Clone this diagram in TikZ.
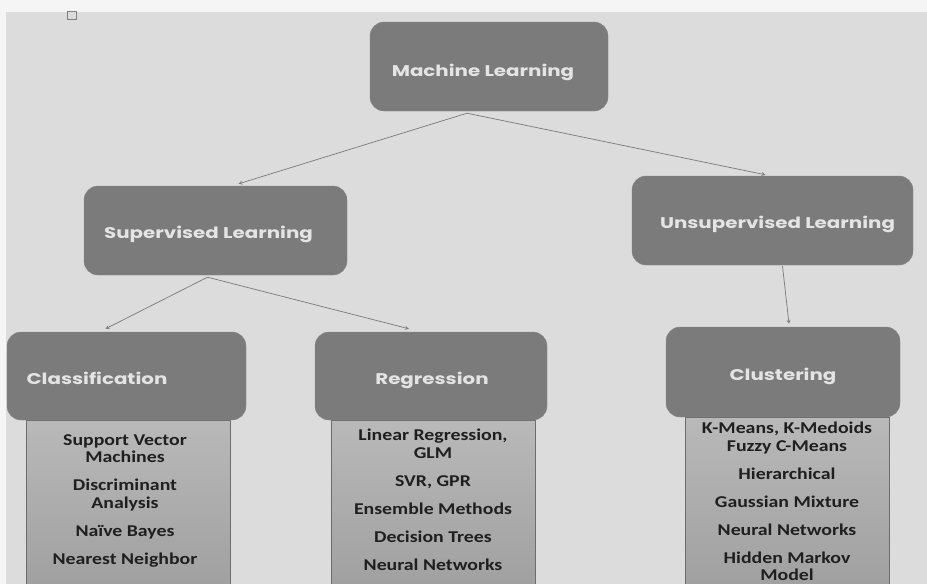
\documentclass[tikz,border=0pt]{standalone}
\usepackage{fontspec}
\setmainfont{Carlito}[FakeStretch=1.2]
\newfontfamily\headfont{Poppins}[FakeStretch=1.28]
\usetikzlibrary{positioning}
\definecolor{bgGray}{HTML}{DCDCDC}
\definecolor{boxGray}{HTML}{7B7B7B}
\definecolor{lineGray}{HTML}{7E7E7E}
\definecolor{headText}{HTML}{E4E4E4}
% move a box title by (#1,#2)
\newcommand\boxtitle[3]{\raisebox{#2}[0pt][0pt]{\hspace*{#1}#3\hspace*{-#1}}}
\begin{document}
\begin{tikzpicture}[x=1pt,y=-1pt,>=stealth, line join=round,
    head/.style={draw=boxGray!90!white, fill=boxGray, rounded corners=14pt, text=headText,
      font=\headfont\bfseries\fontsize{15.5}{17}\selectfont, inner sep=0pt},
    panel/.style={draw=gray!85!black, top color=gray!55, bottom color=gray!75,
      minimum width=204pt, minimum height=172pt, anchor=north, inner sep=0pt},
    items/.style={align=center, anchor=north, inner sep=0pt, text=black!88,
      font=\bfseries\fontsize{16.5}{17.5}\selectfont},
    link/.style={->, draw=lineGray, line width=0.75pt}]
    \def\gap{10.5pt} % space between list entries
    % page
    \useasboundingbox (0,0) rectangle (927,584);
    \fill[gray!8] (0,0) rectangle (927,584);
    \fill[bgGray] (6,12) rectangle (927,584);
    \draw[gray, line width=0.5pt] (67,11) rectangle (76,19);
    % list panels
    \node[panel] (clsList) at (128,420) {};
    \node[panel] (regList) at (433,420) {};
    \node[panel, minimum height=175pt] (cluList) at (787.5,417) {};
    % boxes
    \node[head, minimum width=238pt, minimum height=89pt] (ml) at (489,66.5) {\boxtitle{-6pt}{-10pt}{Machine Learning}};
    \node[head, minimum width=263pt, minimum height=89pt] (sup) at (215.5,230.5) {\boxtitle{-7pt}{-8.4pt}{Supervised Learning}};
    \node[head, minimum width=281pt, minimum height=89pt] (uns) at (772.5,220.5) {\boxtitle{5pt}{-8pt}{Unsupervised Learning}};
    \node[head, minimum width=239pt, minimum height=88pt] (cls) at (126.5,376) {\boxtitle{-29.5pt}{-8.4pt}{Classification}};
    \node[head, minimum width=232pt, minimum height=88pt] (reg) at (431,376) {\boxtitle{1pt}{-8.4pt}{Regression}};
    \node[head, minimum width=234pt, minimum height=90pt] (clu) at (783,372) {\boxtitle{0pt}{-8.4pt}{Clustering}};
    % list texts
    \node[items] (clsItems) at (125,434) {Support Vector\\Machines\\[\gap]Discriminant\\Analysis\\[\gap]Naïve Bayes\\[\gap]Nearest Neighbor};
    \node[items] (regItems) at (433,429) {Linear Regression,\\GLM\\[\gap]SVR, GPR\\[\gap]Ensemble Methods\\[\gap]Decision Trees\\[\gap]Neural Networks};
    \node[items] (cluItems) at (787,422) {K-Means, K-Medoids\\Fuzzy C-Means\\[\gap]Hierarchical\\[\gap]Gaussian Mixture\\[\gap]Neural Networks\\[\gap]Hidden Markov\\Model};
    % connectors
    \draw[link] ([xshift=-22pt,yshift=-2pt]ml.south) -- ([xshift=23pt,yshift=2pt]sup.north);
    \draw[link] ([xshift=-22pt,yshift=-2pt]ml.south) -- ([xshift=-7pt,yshift=1pt]uns.north);
    \draw[link] ([xshift=-8pt,yshift=-2pt]sup.south) -- ([xshift=-21pt,yshift=3pt]cls.north);
    \draw[link] ([xshift=-8pt,yshift=-2pt]sup.south) -- ([xshift=-22pt,yshift=3pt]reg.north);
    \draw[link] ([xshift=10pt,yshift=-1pt]uns.south) -- ([xshift=6pt,yshift=3pt]clu.north);
\end{tikzpicture}
\end{document}
